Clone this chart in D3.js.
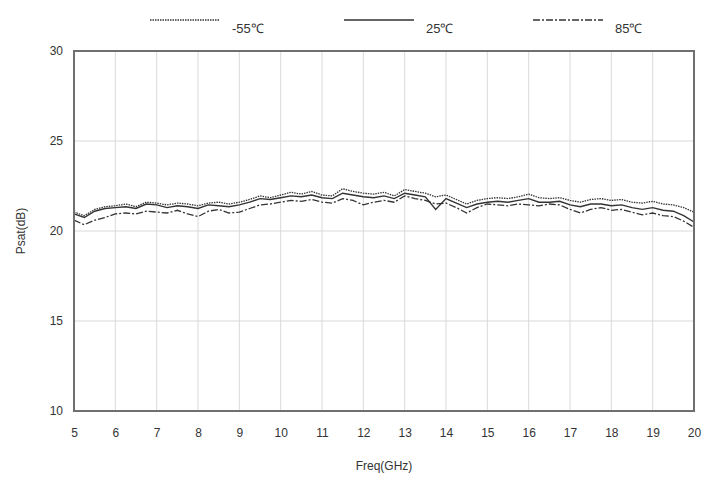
<!DOCTYPE html>
<html>
<head>
<meta charset="utf-8">
<title>Psat vs Freq</title>
<script src="https://d3js.org/d3.v7.min.js"></script>
<style>
  body { margin: 0; background: #fff; }
  text { font-family: 'Liberation Sans Narrow', 'Arial Narrow', 'Liberation Sans', sans-serif; fill: #333; }
  .grid line { stroke: #d9d9d9; stroke-width: 1; }
</style>
</head>
<body>
<svg id="chart"></svg>
<script>
// frequency points (GHz), 0.25 step
var freq = d3.range(5, 20.001, 0.25);

var psatCold = [21.05, 20.85, 21.2, 21.35, 21.4, 21.5, 21.35, 21.6, 21.55, 21.45, 21.55, 21.5, 21.4,
  21.55, 21.6, 21.5, 21.6, 21.75, 21.95, 21.85, 22.0, 22.15, 22.05, 22.2, 22.0, 21.95, 22.35, 22.2,
  22.1, 22.05, 22.15, 21.95, 22.3, 22.2, 22.1, 21.9, 22.0, 21.75, 21.5, 21.7, 21.8, 21.85, 21.8,
  21.9, 22.05, 21.85, 21.8, 21.85, 21.7, 21.6, 21.75, 21.8, 21.7, 21.75, 21.6, 21.55, 21.65, 21.5,
  21.45, 21.3, 21.05];

var psatRoom = [20.95, 20.75, 21.1, 21.25, 21.3, 21.35, 21.25, 21.5, 21.45, 21.3, 21.4, 21.35, 21.25,
  21.45, 21.4, 21.35, 21.45, 21.6, 21.8, 21.75, 21.85, 21.95, 21.9, 22.0, 21.85, 21.8, 22.1, 22.0,
  21.9, 21.85, 21.95, 21.8, 22.1, 22.0, 21.9, 21.2, 21.8, 21.55, 21.3, 21.5, 21.6, 21.65, 21.6,
  21.7, 21.8, 21.6, 21.6, 21.65, 21.45, 21.35, 21.5, 21.5, 21.4, 21.45, 21.3, 21.2, 21.3, 21.15,
  21.1, 20.85, 20.5];

var psatHot = [20.6, 20.35, 20.6, 20.75, 20.95, 21.0, 20.95, 21.1, 21.05, 21.0, 21.15, 20.95, 20.8,
  21.1, 21.2, 21.0, 21.05, 21.25, 21.45, 21.5, 21.6, 21.7, 21.65, 21.75, 21.6, 21.55, 21.8, 21.7,
  21.45, 21.6, 21.7, 21.6, 21.95, 21.8, 21.7, 21.5, 21.55, 21.3, 21.0, 21.3, 21.5, 21.45, 21.4,
  21.5, 21.45, 21.4, 21.5, 21.45, 21.2, 21.0, 21.2, 21.3, 21.15, 21.2, 21.05, 20.9, 21.0, 20.85,
  20.8, 20.55, 20.2];

var xTicks = d3.range(5, 21, 1);
var yTicks = [10, 15, 20, 25, 30];
var seriesNames = ["-55℃", "25℃", "85℃"];

var width = 723, height = 479;
var plotL = 74, plotR = 694, plotT = 51, plotB = 411;

var svg = d3.select("#chart").attr("width", width).attr("height", height);

var x = d3.scaleLinear().domain([5, 20]).range([plotL, plotR]);
var y = d3.scaleLinear().domain([10, 30]).range([plotB, plotT]);

// grid
svg.append("g").attr("class", "grid")
  .selectAll("line").data(xTicks.slice(1, -1)).enter().append("line")
  .attr("x1", function(d) { return x(d); }).attr("x2", function(d) { return x(d); })
  .attr("y1", plotT).attr("y2", plotB);
svg.append("g").attr("class", "grid")
  .selectAll("line").data(yTicks.slice(1, -1)).enter().append("line")
  .attr("x1", plotL).attr("x2", plotR)
  .attr("y1", function(d) { return y(d); }).attr("y2", function(d) { return y(d); });

// axes (labels only)
var xAxis = svg.append("g").attr("transform", "translate(0," + (plotB + 14) + ")")
  .call(d3.axisBottom(x).tickValues(xTicks).tickSize(0).tickFormat(d3.format("d")));
xAxis.select(".domain").remove();
xAxis.selectAll("text").attr("font-size", 12).attr("fill", "#333")
  .style("font-family", "'Liberation Sans Narrow', 'Liberation Sans', sans-serif");

var yAxis = svg.append("g").attr("transform", "translate(" + (plotL - 8) + ",0)")
  .call(d3.axisLeft(y).tickValues(yTicks).tickSize(0).tickFormat(d3.format("d")));
yAxis.select(".domain").remove();
yAxis.selectAll("text").attr("font-size", 12).attr("fill", "#333")
  .style("font-family", "'Liberation Sans Narrow', 'Liberation Sans', sans-serif");

// lines
var line = d3.line().x(function(d, i) { return x(freq[i]); }).y(function(d) { return y(d); });
var styles = [
  { data: psatCold, dash: "1.5,1", w: 1.3 },
  { data: psatRoom, dash: null, w: 1.4 },
  { data: psatHot, dash: "7,2,2,2", w: 1.3 }
];
styles.forEach(function(s) {
  svg.append("path").datum(s.data)
    .attr("d", line)
    .attr("fill", "none")
    .attr("stroke", "#333")
    .attr("stroke-width", s.w)
    .attr("stroke-dasharray", s.dash);
});

// plot border
svg.append("rect")
  .attr("x", plotL).attr("y", plotT)
  .attr("width", plotR - plotL).attr("height", plotB - plotT)
  .attr("fill", "none").attr("stroke", "#6f6f6f").attr("stroke-width", 2);

// axis titles
svg.append("text").attr("x", (plotL + plotR) / 2).attr("y", 470)
  .attr("text-anchor", "middle").attr("font-size", 12).text("Freq(GHz)");
svg.append("text").attr("transform", "translate(25," + ((plotT + plotB) / 2) + ") rotate(-90)")
  .attr("text-anchor", "middle").attr("font-size", 12).text("Psat(dB)");

// legend
var legendX = [150, 344, 533];
seriesNames.forEach(function(n, i) {
  svg.append("line")
    .attr("x1", legendX[i]).attr("x2", legendX[i] + 70)
    .attr("y1", 20).attr("y2", 20)
    .attr("stroke", "#333")
    .attr("stroke-width", i === 1 ? 1.6 : 1.3)
    .attr("stroke-dasharray", styles[i].dash);
  svg.append("text")
    .attr("x", legendX[i] + 82).attr("y", 33)
    .attr("font-size", 13).text(n);
});
</script>
</body>
</html>
